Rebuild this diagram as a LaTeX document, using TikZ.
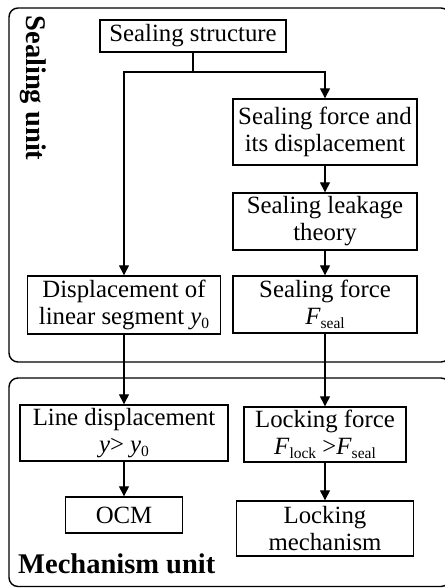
\documentclass[tikz,border=0pt]{standalone}
\usepackage{fontspec}
\setmainfont{Liberation Serif}
\usetikzlibrary{arrows.meta}
\newcommand\subtx[1]{\raisebox{-0.35ex}{\fontsize{15.5}{15.5}\selectfont #1}}
\begin{document}
\begin{tikzpicture}[x=1pt,y=-1pt,
  box/.style={draw,line width=1.4pt,align=center,inner sep=0pt,font=\fontsize{24.8}{27}\selectfont},
  unitbox/.style={draw,line width=1.4pt,rounded corners=9pt},
  arr/.style={line width=1.3pt,-{Triangle[length=10pt,width=10pt]}},
  ln/.style={line width=1.3pt},
  unitlabel/.style={font=\fontsize{28.5}{30}\selectfont\bfseries,inner sep=0pt}]
\useasboundingbox (0,0) rectangle (444,588);
\draw[unitbox] (9,8) rectangle (450,362);
\draw[unitbox] (9,378) rectangle (450,586.5);
\node[unitlabel,rotate=-90] (su) at (33,88) {Sealing unit};
\node[unitlabel,anchor=west] (mu) at (18,564) {Mechanism unit};
\node[box,minimum width=186pt,minimum height=32pt] (ss) at (193,36) {Sealing structure};
\node[box,minimum width=184pt,minimum height=66pt] (sfd) at (325,132) {Sealing force and\\its displacement};
\node[box,minimum width=184pt,minimum height=57pt] (slt) at (325,221.5) {Sealing leakage\\theory};
\node[box,minimum width=184pt,minimum height=57pt] (sf) at (325,304.5) {Sealing force\\\textit{F}\subtx{seal}};
\node[box,minimum width=193pt,minimum height=58pt] (dls) at (124,305) {Displacement of\\linear segment \textit{y}\subtx{0}};
\node[box,minimum width=208pt,minimum height=56pt] (ld) at (124,433) {Line displacement\\\textit{y}> \textit{y}\subtx{0}};
\node[box,minimum width=162pt,minimum height=55pt] (lf) at (325,434.5) {Locking force\\\textit{F}\subtx{lock} >\textit{F}\subtx{seal}};
\node[box,minimum width=117pt,minimum height=36pt] (ocm) at (124,515) {OCM};
\node[box,minimum width=177pt,minimum height=55pt] (lm) at (325,528.5) {Locking\\mechanism};
\coordinate (j) at (193,72);
\draw[ln] (ss.south) -- (j);
\draw[arr] (j) -| (sfd.north);
\draw[arr] (j) -| (dls.north);
\draw[arr] (sfd) -- (slt);
\draw[arr] (slt) -- (sf);
\draw[arr] (sf) -- (lf);
\draw[arr] (dls) -- (ld);
\draw[arr] (ld) -- (ocm);
\draw[arr] (lf) -- (lm);
\end{tikzpicture}
\end{document}
